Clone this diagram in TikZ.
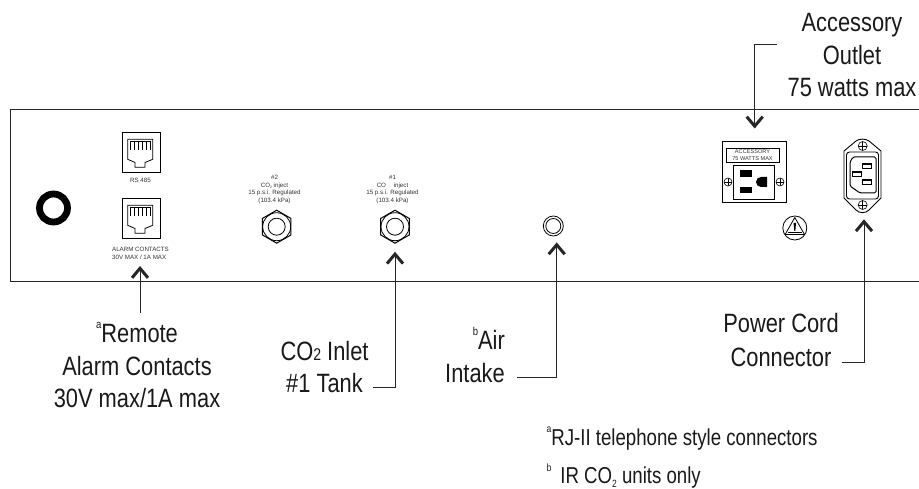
\documentclass[tikz,border=0pt]{standalone}
\usepackage{fontspec}
\setmainfont{Liberation Sans}
\newfontfamily\condfont[FakeStretch=0.825]{Liberation Sans}
\newfontfamily\notefont[FakeStretch=0.81]{Liberation Sans}
\usetikzlibrary{arrows.meta,shapes.geometric}
\newcommand{\lbl}{\condfont\fontsize{26.5}{30}\selectfont}
\newcommand{\fnt}{\notefont\fontsize{23}{24}\selectfont}
\newcommand{\sm}{\fontsize{6.2}{7.4}\selectfont}
\newcommand{\upmark}[1]{\raisebox{1.0ex}{\fontsize{11.5}{12}\selectfont #1}}
\newcommand{\dnmark}[1]{{\fontsize{17}{17}\selectfont #1}}
\tikzset{
  line/.style={draw=black!85,line width=1pt},
  callout/.style={draw=black!85,line width=1pt,-{Straight Barb[length=9.5pt,width=16pt,line width=3pt]}},
  lbltext/.style={inner sep=0,anchor=base,text=black!90,font=\lbl},
  small/.style={inner sep=0,align=center,text=black!80,font=\sm},
  screw/.style={circle,draw=black,line width=.6pt,minimum size=8pt,inner sep=0,
    path picture={\draw[line width=.6pt] (path picture bounding box.north)--(path picture bounding box.south)
      (path picture bounding box.east)--(path picture bounding box.west);}},
  hexnut/.style={regular polygon,regular polygon sides=6,shape border rotate=30,draw=black,line width=1pt,minimum size=33pt,inner sep=0,
    path picture={\draw[line width=.8pt] (path picture bounding box.center) circle[radius=14pt];
       \draw[line width=.8pt] (path picture bounding box.center) circle[radius=8.5pt];}},
  rjjack/.pic={
    \draw[line width=.8pt] (0,0) rectangle (38,40);
    \draw[line width=.8pt] (5.7,7.3) -- (30.7,7.3) -- (30.7,27.3) -- (23,30.5) -- (23,35.3) -- (13,35.3) -- (13,30.5) -- (5.7,27.3) -- cycle;
    \draw[line width=.6pt] (8.5,9) -- (28,9);
    \foreach \p in {8.5,12.5,16.5,20.5,24.5,28}{\draw[line width=.7pt] (\p,9) -- (\p,18);}
  }
}
\begin{document}
\begin{tikzpicture}[x=1pt,y=-1pt]
\useasboundingbox (0,0) rectangle (919,489);
% panel
\coordinate (pTR) at (919,110);
\coordinate (pTL) at (10,110);
\coordinate (pBL) at (10,282);
\coordinate (pBR) at (919,282);
\draw[line] (pTR) -- (pTL) -- (pBL) -- (pBR);
% ring
\node[circle,draw=black,line width=6.8pt,minimum size=28pt,inner sep=0] (ring) at (53.5,208) {};
% jacks
\pic at (122,132) {rjjack};
\pic at (122,198) {rjjack};
\coordinate (jackB) at (140,266);
\node[small] (rs) at (140.5,180.5) {RS 485};
\node[small,align=left] (alarm) at (140.5,253.5) {ALARM CONTACTS\\30V MAX / 1A MAX};
% nuts
\node[small] (t2) at (274.5,189.5) {\#2\\CO\raisebox{-.3ex}{\fontsize{3.5}{4}\selectfont 2} inject\\15 p.s.i. Regulated\\(103.4 kPa)};
\node[small] (t1) at (392.5,189.5) {\#1\\CO\hspace{6pt} inject\\15 p.s.i. Regulated\\(103.4 kPa)};
\node[hexnut] (hex2) at (276.7,226.7) {};
\node[hexnut] (hex1) at (395,226.7) {};
% air
\node[circle,draw=black,line width=.8pt,minimum size=20pt,inner sep=0] (air) at (553.3,226) {};
\node[circle,draw=black,line width=.8pt,minimum size=15pt,inner sep=0] (airin) at (553.3,226) {};
% accessory outlet
\node[draw=black,line width=1pt,minimum width=64pt,minimum height=61pt,inner sep=0] (plate) at (754,172.5) {};
\node[draw=black,line width=.8pt,minimum width=53pt,minimum height=14pt,inner sep=0,font=\fontsize{5.6}{6.4}\selectfont,align=center,text=black!80] (plabel) at (752.5,155) {ACCESSORY\\75 WATTS MAX};
\node[draw=black,line width=.8pt,minimum width=41pt,minimum height=34pt,inner sep=0] (socket) at (753.5,182) {};
\fill (740,170) rectangle (752,177);
\fill (740,187) rectangle (752,193.5);
\fill (767,177) -- (761,177) arc[start angle=90,end angle=270,radius=5pt] -- (767,187) -- cycle;
\node[screw] (s1) at (728,182) {};
\node[screw] (s2) at (780,182) {};
% warning
\node[circle,draw=black,line width=.8pt,minimum size=24pt,inner sep=0] (warn) at (794.8,228) {};
\draw[line width=.8pt,line join=round] (794.8,217.5) -- (804.5,234.5) -- (785.1,234.5) -- cycle;
\draw[line width=.8pt] (788,232) -- (801.6,232);
\fill (793.6,223) -- (796,223) -- (795.3,231) -- (794.3,231) -- cycle;
% IEC inlet
\draw[line width=.9pt] (844,151) -- (856,141) .. controls (859,138.5) and (866,138.5) .. (869,141) -- (881,151) -- (881,198) -- (869,210) .. controls (866,213.5) and (859,213.5) .. (856,210) -- (844,198) -- cycle;
\node[draw=black,line width=.9pt,rounded corners=3pt,minimum width=32pt,minimum height=47pt,inner sep=0] (iec) at (862.5,175.5) {};
\draw[line width=1pt,rounded corners=1.5pt] (853,157) -- (876,157) -- (876,193) -- (860,193) -- (850,186) -- (850,162) -- cycle;
\foreach \a/\b in {862/163,852/171,862/179}{
  \draw[line width=.7pt] (\a,\b) rectangle (\a+9,\b+5.5);
  \fill (\a,\b) rectangle (\a+9,\b+2);
}
\node[screw,minimum size=9pt] (s3) at (862.7,146) {};
\node[screw,minimum size=9pt] (s4) at (862.7,205) {};
% labels
\node[lbltext] (acc1) at (852,32) {Accessory};
\node[lbltext] (acc2) at (852,65) {Outlet};
\node[lbltext] (acc3) at (852,97) {75 watts max};
\node[lbltext] (rem1) at (137,342) {\upmark{a}Remote};
\node[lbltext] (rem2) at (137,375) {Alarm Contacts};
\node[lbltext] (rem3) at (137,407) {30V max/1A max};
\node[lbltext] (co1) at (324.5,360) {CO\dnmark{2} Inlet};
\node[lbltext] (co2) at (324.5,392) {\#1 Tank};
\node[lbltext,anchor=base east] (air1) at (505,349) {\upmark{b}Air};
\node[lbltext,anchor=base east] (air2) at (505,382) {Intake};
\node[lbltext] (cord1) at (781,332) {Power Cord};
\node[lbltext] (cord2) at (781,366) {Connector};
\node[inner sep=0,font=\fnt,text=black!90,anchor=base west] (fa) at (546.5,445) {\raisebox{1ex}{\fontsize{10.5}{11}\selectfont a}RJ-II telephone style connectors};
\node[inner sep=0,font=\fnt,text=black!90,anchor=base west] (fb) at (546.5,483.5) {\raisebox{1ex}{\fontsize{10.5}{11}\selectfont b}\hspace{9pt}IR CO\raisebox{-.3ex}{\fontsize{10.5}{11}\selectfont 2} units only};
% connectors
\coordinate (rEnd) at (140,313);
\coordinate (k1) at (373,387);
\coordinate (k2) at (517,377);
\coordinate (k3) at (842,362);
\coordinate (k4) at (777,45);
\draw[callout] (rEnd) -- (jackB);
\draw[callout] (k1) -| ([yshift=-8pt]hex1.south);
\draw[callout] (k2) -| ([xshift=3.4pt,yshift=-6pt]air.south);
\draw[callout] (k3) -| ([xshift=1.3pt,yshift=-9.5pt]s4.south);
\draw[callout] (k4) -| ([xshift=.7pt,yshift=13pt]plate.north);
\end{tikzpicture}
\end{document}
